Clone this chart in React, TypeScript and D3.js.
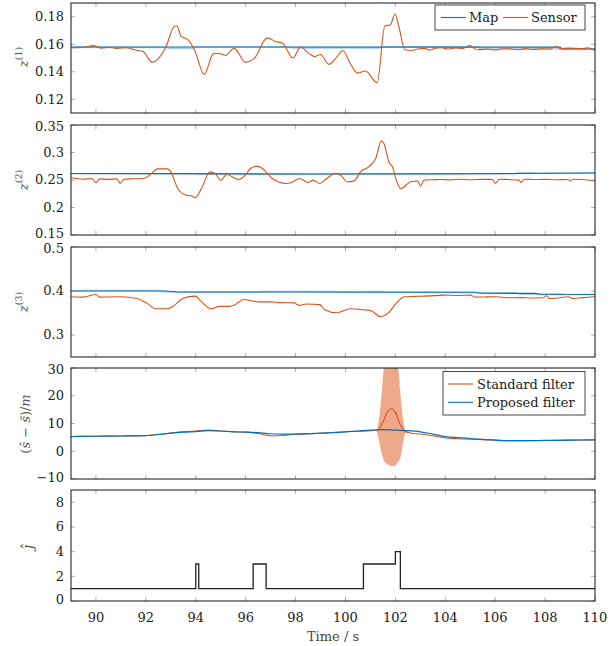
import React from "react";
import * as d3 from "d3";

// ---- data ----
const xTicks = [90, 92, 94, 96, 98, 100, 102, 104, 106, 108, 110];

// panel 1: z(1)
const sensor1T = [89.0, 89.5, 89.9, 90.2, 90.5, 90.84, 91.2, 91.65, 91.86, 92.26, 92.8, 93.14, 93.25, 93.4, 93.7, 93.96, 94.34, 94.7, 94.9, 95.18, 95.54, 95.99, 96.33, 96.87, 97.2, 97.48, 97.89, 98.2, 98.56, 98.77, 99.0, 99.34, 99.65, 99.9, 100.19, 100.49, 100.8, 101.27, 101.58, 101.79, 101.99, 102.15, 102.38, 102.63, 102.9, 103.17, 103.4, 103.6, 103.85, 104.1, 104.4, 104.7, 105.0, 105.15, 105.34, 105.7, 106.0, 106.3, 106.56, 106.9, 107.2, 107.5, 107.91, 108.2, 108.43, 108.6, 108.9, 109.27, 109.5, 109.7, 110.0];
const sensor1V = [0.1574, 0.1578, 0.159, 0.1572, 0.1578, 0.157, 0.1575, 0.1555, 0.155, 0.147, 0.158, 0.173, 0.1735, 0.166, 0.163, 0.1555, 0.138, 0.153, 0.1535, 0.152, 0.157, 0.147, 0.1495, 0.1646, 0.162, 0.1608, 0.15, 0.158, 0.153, 0.151, 0.1525, 0.1454, 0.1507, 0.1555, 0.146, 0.139, 0.1406, 0.132, 0.1735, 0.174, 0.182, 0.172, 0.156, 0.1555, 0.1565, 0.157, 0.1558, 0.1572, 0.1575, 0.1565, 0.1574, 0.157, 0.159, 0.157, 0.156, 0.1566, 0.1558, 0.1567, 0.1567, 0.156, 0.1568, 0.1562, 0.1567, 0.1565, 0.1586, 0.1568, 0.1572, 0.157, 0.1568, 0.1575, 0.1555];
const map1T = [89, 108.6, 108.7, 110];
const map1V = [0.158, 0.1579, 0.1565, 0.1565];
const mapLight1T = [89, 92.8, 92.9, 93.9, 94.0, 97.8, 97.9, 101.4, 101.5, 105.3, 105.4, 110];
const mapLight1V = [0.1576, 0.1576, 0.1572, 0.1572, 0.158, 0.158, 0.1574, 0.1574, 0.1582, 0.1582, 0.1566, 0.1566];

// panel 2: z(2)
const sensor2T = [89.01, 89.49, 89.82, 90.0, 90.16, 90.5, 90.84, 90.98, 91.11, 91.5, 91.92, 92.2, 92.47, 92.87, 93.0, 93.28, 93.62, 93.82, 93.98, 94.23, 94.57, 94.77, 95.0, 95.24, 95.72, 95.99, 96.19, 96.46, 96.67, 97.07, 97.62, 97.89, 98.16, 98.5, 98.7, 98.97, 99.24, 99.62, 99.85, 100.05, 100.33, 100.6, 100.93, 101.21, 101.44, 101.54, 101.75, 101.88, 102.06, 102.22, 102.63, 102.9, 103.01, 103.14, 103.5, 103.85, 104.2, 104.6, 105.0, 105.4, 105.88, 106.02, 106.15, 106.5, 106.96, 107.03, 107.17, 107.6, 108.0, 108.4, 108.93, 109.0, 109.13, 109.5, 110.0];
const sensor2V = [0.254, 0.2515, 0.2527, 0.2455, 0.252, 0.2512, 0.252, 0.2436, 0.2515, 0.2522, 0.2527, 0.2606, 0.2703, 0.2703, 0.2648, 0.2345, 0.2224, 0.2212, 0.2176, 0.2345, 0.2648, 0.2618, 0.2497, 0.26, 0.251, 0.2588, 0.271, 0.2752, 0.271, 0.2527, 0.2436, 0.2467, 0.2527, 0.2455, 0.2497, 0.2436, 0.2527, 0.2618, 0.257, 0.2467, 0.2479, 0.2648, 0.274, 0.289, 0.3212, 0.3164, 0.2818, 0.274, 0.2467, 0.2345, 0.2473, 0.2479, 0.2388, 0.2497, 0.2505, 0.251, 0.2502, 0.2515, 0.2505, 0.2512, 0.251, 0.2436, 0.2515, 0.2508, 0.2497, 0.2455, 0.2515, 0.2508, 0.2512, 0.2505, 0.251, 0.2479, 0.2515, 0.2508, 0.2479];
const map2T = [89, 93.0, 99.0, 103.0, 107.0, 110];
const map2V = [0.2618, 0.2616, 0.2608, 0.2612, 0.2618, 0.2628];
const mapLight2T = [89, 94.0, 94.1, 99.0, 99.1, 103.0, 103.1, 106.8, 106.9, 107.5, 107.6, 110];
const mapLight2V = [0.2614, 0.2614, 0.2604, 0.2604, 0.2612, 0.2612, 0.2608, 0.2608, 0.2632, 0.2632, 0.2622, 0.2632];

// panel 3: z(3)
const sensor3T = [89.01, 89.49, 90.0, 90.16, 90.5, 90.98, 91.65, 92.06, 92.4, 92.87, 93.14, 93.48, 93.98, 94.23, 94.63, 94.97, 95.31, 95.58, 95.92, 96.53, 97.01, 97.34, 97.95, 98.13, 98.43, 98.97, 99.17, 99.65, 100.19, 100.73, 101.0, 101.41, 101.75, 102.02, 102.36, 102.8, 103.17, 103.6, 103.98, 104.5, 105.0, 105.2, 105.6, 106.02, 106.56, 107.0, 107.5, 107.91, 108.05, 108.18, 108.6, 108.93, 109.13, 109.5, 110.0];
const sensor3V = [0.3868, 0.386, 0.3922, 0.386, 0.3865, 0.3868, 0.383, 0.3713, 0.3597, 0.3597, 0.3674, 0.383, 0.3884, 0.3752, 0.3597, 0.3651, 0.3651, 0.369, 0.3806, 0.3752, 0.3752, 0.3736, 0.3729, 0.3674, 0.3705, 0.369, 0.3574, 0.3504, 0.3597, 0.3574, 0.3558, 0.3419, 0.3519, 0.3713, 0.3868, 0.3878, 0.3884, 0.3895, 0.3907, 0.3898, 0.3907, 0.386, 0.3865, 0.3868, 0.3845, 0.385, 0.3842, 0.3845, 0.3891, 0.383, 0.3848, 0.3868, 0.383, 0.385, 0.3868];
const map3T = [89, 92.8, 93.3, 105.2, 105.4, 107.6, 107.8, 110];
const map3V = [0.4, 0.4, 0.3977, 0.3972, 0.3948, 0.3946, 0.3925, 0.392];
const mapLight3T = [89, 89.6, 92.6, 92.7, 96.5, 96.6, 99.5, 99.6, 101.5, 101.6, 106.8, 107.0, 108.6, 108.8, 110];
const mapLight3V = [0.4, 0.4012, 0.4012, 0.3978, 0.3978, 0.399, 0.399, 0.398, 0.3985, 0.3975, 0.3958, 0.393, 0.3935, 0.392, 0.392];

// panel 4: (s^ - s~)/m
const proposedT = [89, 90, 91, 92, 93, 93.5, 94, 94.5, 95, 95.5, 96, 96.5, 97, 97.5, 98, 99, 100, 100.5, 101, 101.5, 102, 102.5, 103, 103.5, 104, 104.5, 105, 105.5, 106, 106.5, 107, 108, 109, 110];
const proposedV = [5.3, 5.4, 5.5, 5.6, 6.5, 6.9, 7.1, 7.4, 7.3, 7.0, 6.9, 6.7, 6.3, 6.2, 6.2, 6.5, 7.0, 7.3, 7.6, 7.8, 7.6, 7.4, 7.0, 6.2, 5.3, 4.9, 4.6, 4.3, 4.0, 3.8, 3.8, 3.9, 4.0, 4.1];
const standardT = [89, 90, 91, 92, 93, 93.5, 94, 94.5, 95, 95.5, 96, 96.5, 97, 97.5, 98, 99, 100, 100.5, 101, 101.3, 101.5, 101.7, 101.85, 102.0, 102.2, 102.4, 102.6, 103, 103.5, 104, 104.5, 105, 105.5, 106, 106.5, 107, 108, 109, 110];
const standardV = [5.3, 5.4, 5.5, 5.7, 6.6, 7.0, 7.3, 7.6, 7.3, 7.0, 6.9, 6.4, 5.6, 5.7, 6.1, 6.5, 7.0, 7.2, 7.4, 7.6, 10.5, 14.5, 15.3, 14.0, 9.5, 7.2, 6.6, 6.2, 5.6, 4.8, 4.5, 4.3, 4.2, 4.0, 3.8, 3.8, 3.9, 4.0, 4.1];
const bandT = [101.25, 101.35, 101.45, 101.55, 101.7, 101.85, 101.97, 102.1, 102.2, 102.3, 102.4, 102.5];
const bandUpper = [7.6, 12, 21, 32, 42, 45, 42, 32, 21, 12, 7.5, 6.8];
const bandLower = [7.4, 3.5, -0.7, -3.5, -4.8, -5.3, -5.3, -4, -2.4, 2.5, 6.6, 6.6];

// panel 5: j^
const jT = [89, 94.0, 94.12, 96.3, 96.82, 100.72, 102.0, 102.2, 110];
const jV = [1, 3, 1, 3, 1, 3, 4, 1, 1];

// ---- layout ----
const LEFT = 71;
const RIGHT = 595;
const BLUE = "#0072BD";
const LIGHTBLUE = "#a6cdea";
const ORANGE = "#D95319";
const TICKC = "#999";
const FONT = "'DejaVu Serif', serif";
const FS = 13;

const x = d3.scaleLinear().domain([89, 110]).range([LEFT, RIGHT]);

const panels = [
  { id: 1, top: 3, bottom: 113, domain: [0.11, 0.19], ticks: [0.12, 0.14, 0.16, 0.18] },
  { id: 2, top: 125, bottom: 235, domain: [0.15, 0.35], ticks: [0.15, 0.2, 0.25, 0.3, 0.35] },
  { id: 3, top: 247, bottom: 357, domain: [0.25, 0.5], ticks: [0.3, 0.4, 0.5] },
  { id: 4, top: 368, bottom: 479, domain: [-10, 30], ticks: [-10, 0, 10, 20, 30] },
  { id: 5, top: 490, bottom: 601, domain: [0, 9], ticks: [0, 2, 4, 6, 8] },
];

const fmt = (v: number) => String(v).replace("-", "\u2212");

const toPts = (t: number[], v: number[]) => t.map((d, i) => [d, v[i]] as [number, number]);

function Frame({ p, children }: any) {
  const y = d3.scaleLinear().domain(p.domain).range([p.bottom, p.top]);
  // labels sitting on the frame edge get nudged so neighbouring panels don't collide
  const nudge = (t: number) => (t === p.domain[0] ? -1.5 : t === p.domain[1] ? 1.5 : 0);
  return (
    <g>
      <clipPath id={`clip${p.id}`}>
        <rect x={LEFT} y={p.top} width={RIGHT - LEFT} height={p.bottom - p.top} />
      </clipPath>
      <g clipPath={`url(#clip${p.id})`}>{children(y)}</g>
      {xTicks.map((t) => (
        <g key={t} stroke={TICKC} strokeWidth={0.8}>
          <line x1={x(t)} x2={x(t)} y1={p.bottom} y2={p.bottom - 4} />
          <line x1={x(t)} x2={x(t)} y1={p.top} y2={p.top + 4} />
        </g>
      ))}
      {p.ticks.map((t: number) => (
        <g key={t}>
          <line x1={LEFT} x2={LEFT + 4} y1={y(t)} y2={y(t)} stroke={TICKC} strokeWidth={0.8} />
          <line x1={RIGHT} x2={RIGHT - 4} y1={y(t)} y2={y(t)} stroke={TICKC} strokeWidth={0.8} />
          <text x={64} y={y(t) + nudge(t)} dy="0.34em" textAnchor="end" fontSize={FS} fill="#222">
            {fmt(t)}
          </text>
        </g>
      ))}
      <rect x={LEFT} y={p.top} width={RIGHT - LEFT} height={p.bottom - p.top} fill="none" stroke="#111" strokeWidth={1} />
    </g>
  );
}

export default function App() {
  const line = (y: any) =>
    d3.line<[number, number]>().x((d) => x(d[0])).y((d) => y(d[1]));
  const curve = (y: any) =>
    d3.line<[number, number]>().x((d) => x(d[0])).y((d) => y(d[1])).curve(d3.curveMonotoneX);
  const zLabel = (n: number, cy: number) => (
    <text transform={`translate(28,${cy}) rotate(-90)`} textAnchor="middle" fontSize={FS} fill="#555">
      <tspan fontStyle="italic">z</tspan>
      <tspan fontSize={9.5} dy={-6}>({n})</tspan>
    </text>
  );

  return (
    <svg width={616} height={646} fontFamily={FONT} style={{ display: "block", position: "absolute", left: 0, top: 0 }}>
      <rect width={616} height={646} fill="#fff" />

      {/* panel 1 */}
      <Frame p={panels[0]}>
        {(y: any) => (
          <g fill="none">
            <path d={line(y)(toPts(mapLight1T, mapLight1V)) || ""} stroke={LIGHTBLUE} strokeWidth={1.6} />
            <path d={line(y)(toPts(map1T, map1V)) || ""} stroke={BLUE} strokeWidth={1.1} />
            <path d={curve(y)(toPts(sensor1T, sensor1V)) || ""} stroke={ORANGE} strokeWidth={1.1} />
          </g>
        )}
      </Frame>
      {zLabel(1, 57)}
      <g>
        <rect x={435} y={5} width={150} height={25} fill="#fff" stroke="#333" strokeWidth={0.9} />
        <line x1={441} x2={466} y1={17.5} y2={17.5} stroke={BLUE} strokeWidth={1.1} />
        <text x={469} y={22} fontSize={FS} fill="#222">Map</text>
        <line x1={503} x2={528} y1={17.5} y2={17.5} stroke={ORANGE} strokeWidth={1.1} />
        <text x={531} y={22} fontSize={FS} fill="#222">Sensor</text>
      </g>

      {/* panel 2 */}
      <Frame p={panels[1]}>
        {(y: any) => (
          <g fill="none">
            <path d={line(y)(toPts(mapLight2T, mapLight2V)) || ""} stroke={LIGHTBLUE} strokeWidth={1.6} />
            <path d={line(y)(toPts(map2T, map2V)) || ""} stroke={BLUE} strokeWidth={1.1} />
            <path d={curve(y)(toPts(sensor2T, sensor2V)) || ""} stroke={ORANGE} strokeWidth={1.1} />
          </g>
        )}
      </Frame>
      {zLabel(2, 180)}

      {/* panel 3 */}
      <Frame p={panels[2]}>
        {(y: any) => (
          <g fill="none">
            <path d={line(y)(toPts(mapLight3T, mapLight3V)) || ""} stroke={LIGHTBLUE} strokeWidth={1.6} />
            <path d={line(y)(toPts(map3T, map3V)) || ""} stroke={BLUE} strokeWidth={1.1} />
            <path d={curve(y)(toPts(sensor3T, sensor3V)) || ""} stroke={ORANGE} strokeWidth={1.1} />
          </g>
        )}
      </Frame>
      {zLabel(3, 302)}

      {/* panel 4 */}
      <Frame p={panels[3]}>
        {(y: any) => {
          const area = d3
            .area<number>()
            .x((d, i) => x(bandT[i]))
            .y0((d, i) => y(bandLower[i]))
            .y1((d, i) => y(bandUpper[i]))
            .curve(d3.curveMonotoneX);
          return (
            <g fill="none">
              <path d={area(bandT) || ""} fill="#EDA98A" stroke="none" />
              <path d={curve(y)(toPts(standardT, standardV)) || ""} stroke={ORANGE} strokeWidth={1.1} />
              <path d={curve(y)(toPts(proposedT, proposedV)) || ""} stroke={BLUE} strokeWidth={1.2} />
            </g>
          );
        }}
      </Frame>
      <text transform="translate(30,424) rotate(-90)" textAnchor="middle" fontSize={FS} fill="#555">
        (<tspan fontStyle="italic">ŝ</tspan> − <tspan fontStyle="italic">{"s\u0303"}</tspan>)/<tspan fontStyle="italic">m</tspan>
      </text>
      <g>
        <rect x={443} y={371.5} width={142} height={43.5} fill="#fff" stroke="#333" strokeWidth={0.9} />
        <line x1={448} x2={473} y1={384} y2={384} stroke={ORANGE} strokeWidth={1.1} />
        <text x={477} y={388.5} fontSize={FS} fill="#222">Standard filter</text>
        <line x1={448} x2={473} y1={402.3} y2={402.3} stroke={BLUE} strokeWidth={1.1} />
        <text x={477} y={406.8} fontSize={FS} fill="#222">Proposed filter</text>
      </g>

      {/* panel 5 */}
      <Frame p={panels[4]}>
        {(y: any) => (
          <path
            d={d3.line<[number, number]>().x((d) => x(d[0])).y((d) => y(d[1])).curve(d3.curveStepAfter)(toPts(jT, jV)) || ""}
            fill="none"
            stroke="#222"
            strokeWidth={1.3}
          />
        )}
      </Frame>
      <text transform="translate(33,547) rotate(-90)" textAnchor="middle" fontSize={14} fill="#555" fontStyle="italic">
        ĵ
      </text>
      {xTicks.map((t) => (
        <text key={t} x={x(t)} y={622} textAnchor="middle" fontSize={FS} fill="#222">
          {t}
        </text>
      ))}
      <text x={(LEFT + RIGHT) / 2} y={641} textAnchor="middle" fontSize={FS} fill="#444">
        Time / s
      </text>
    </svg>
  );
}
